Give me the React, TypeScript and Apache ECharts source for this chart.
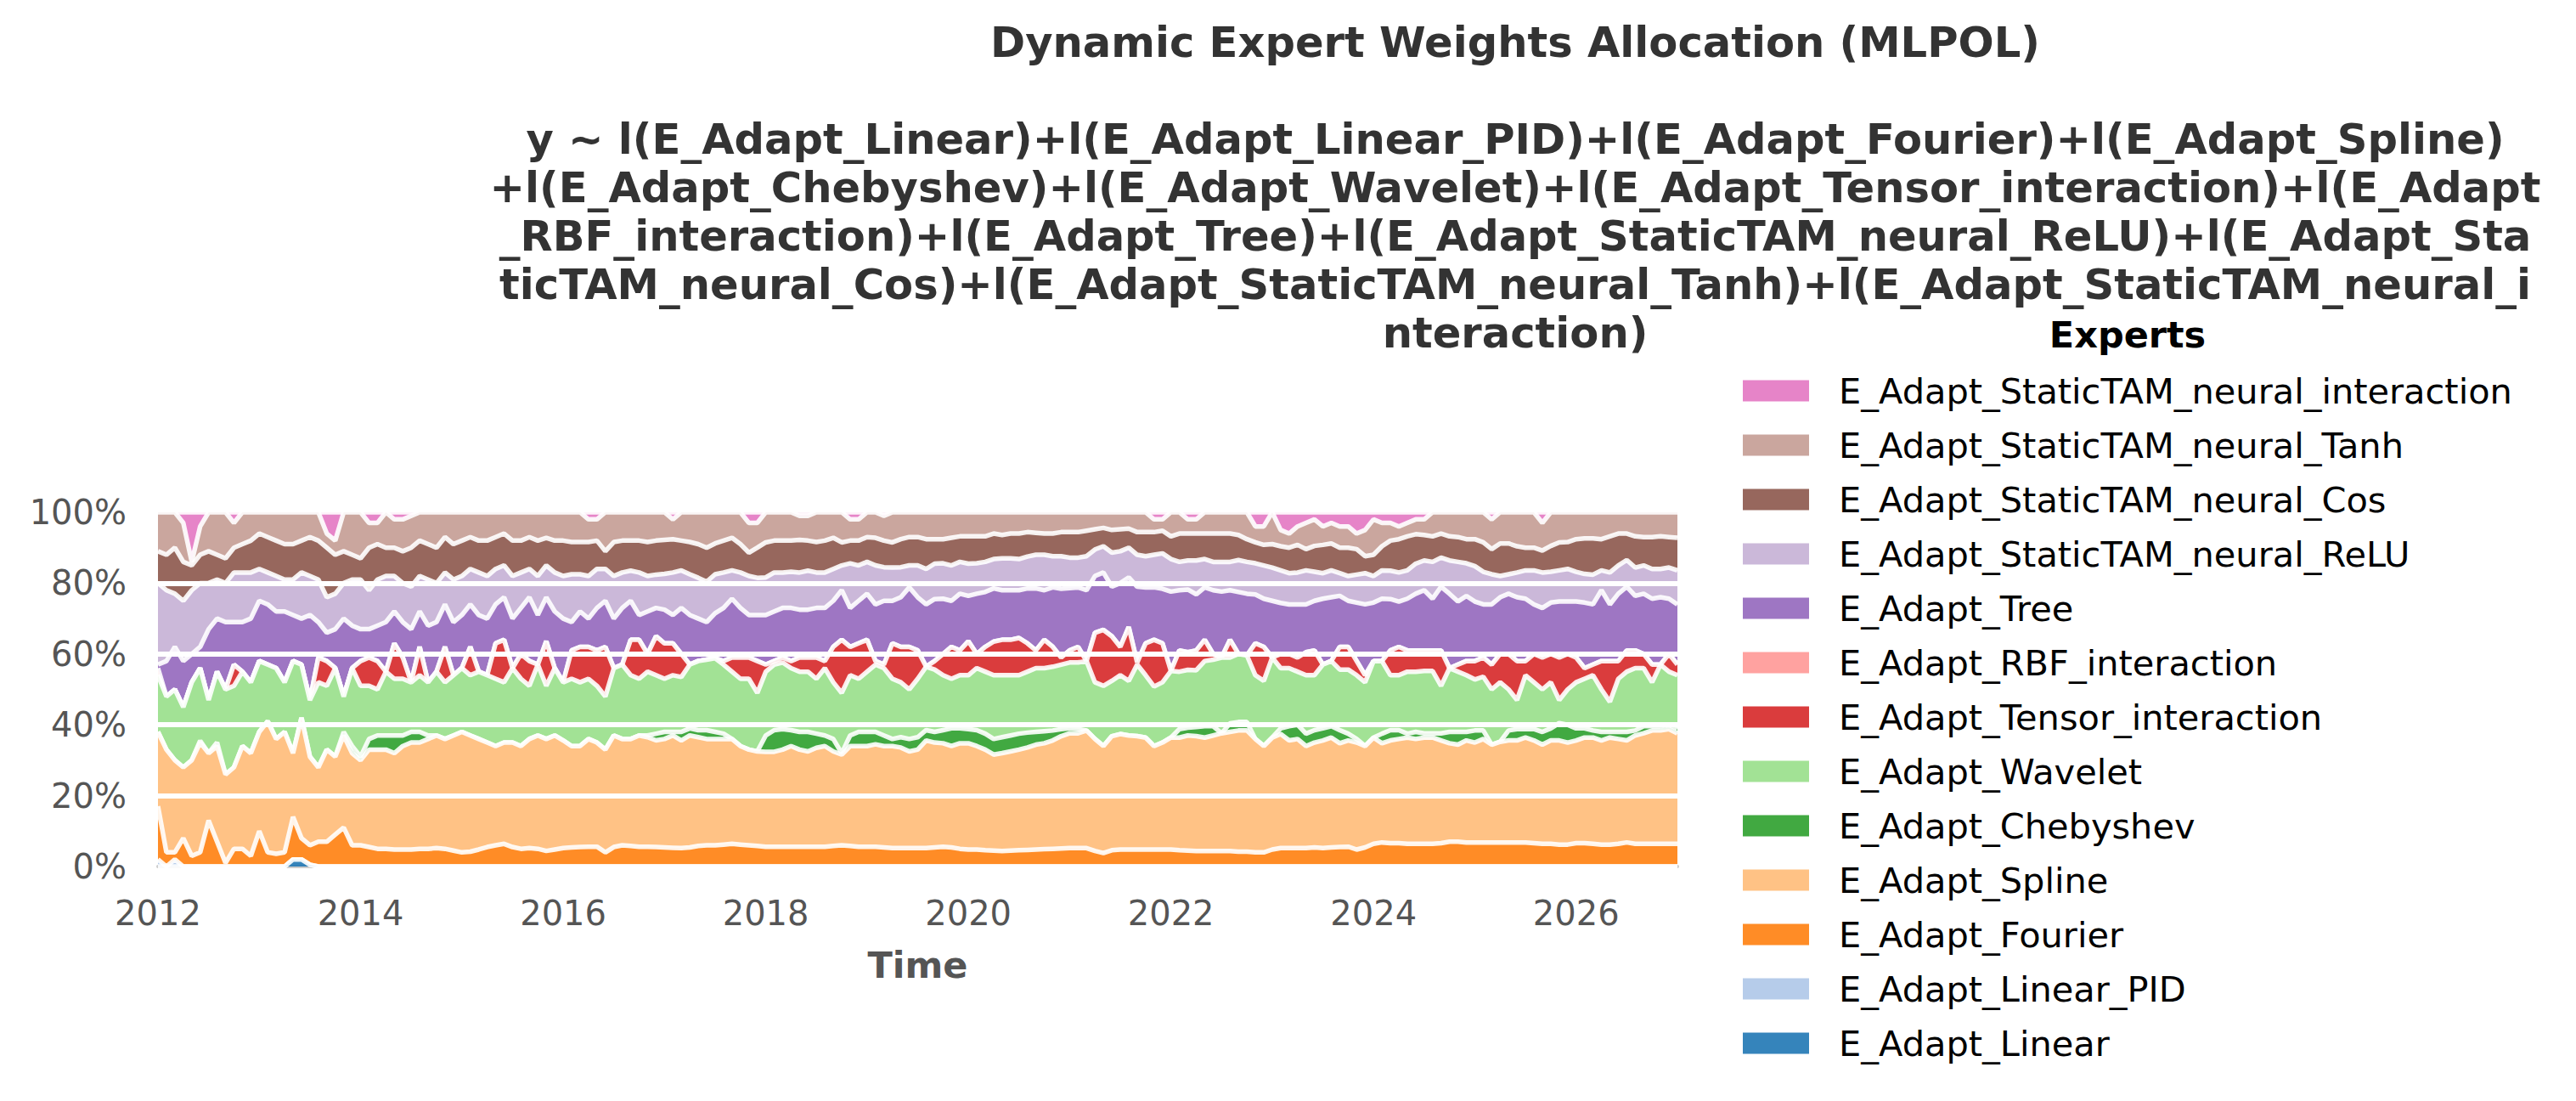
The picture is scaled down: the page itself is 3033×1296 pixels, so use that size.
import React, { useEffect, useRef } from "react";
import * as echarts from "echarts";

// Monthly expert weights (percent), January 2012 through January 2027, one row per year.
const START_YEAR = 2012;

const expertNames = [
  "E_Adapt_Linear",
  "E_Adapt_Linear_PID",
  "E_Adapt_Fourier",
  "E_Adapt_Spline",
  "E_Adapt_Chebyshev",
  "E_Adapt_Wavelet",
  "E_Adapt_Tensor_interaction",
  "E_Adapt_RBF_interaction",
  "E_Adapt_Tree",
  "E_Adapt_StaticTAM_neural_ReLU",
  "E_Adapt_StaticTAM_neural_Cos",
  "E_Adapt_StaticTAM_neural_Tanh",
  "E_Adapt_StaticTAM_neural_interaction",
];

const expertColors = [
  "#1f77b4", "#aec7e8", "#ff7f0e", "#ffbb78", "#2ca02c", "#98df8a", "#d62728",
  "#ff9896", "#9467bd", "#c5b0d5", "#8c564b", "#c49c94", "#e377c2",
];

const linear = [
  0, 0, 0, 0, 0, 0, 0, 0, 0, 0, 0, 0,
  0, 0, 0, 0, 2, 2, 0.5, 0, 0, 0, 0, 0,
  0, 0, 0, 0, 0, 0, 0, 0, 0, 0, 0, 0,
  0, 0, 0, 0, 0, 0, 0, 0, 0, 0, 0, 0,
  0, 0, 0, 0, 0, 0, 0, 0, 0, 0, 0, 0,
  0, 0, 0, 0, 0, 0, 0, 0, 0, 0, 0, 0,
  0, 0, 0, 0, 0, 0, 0, 0, 0, 0, 0, 0,
  0, 0, 0, 0, 0, 0, 0, 0, 0, 0, 0, 0,
  0, 0, 0, 0, 0, 0, 0, 0, 0, 0, 0, 0,
  0, 0, 0, 0, 0, 0, 0, 0, 0, 0, 0, 0,
  0, 0, 0, 0, 0, 0, 0, 0, 0, 0, 0, 0,
  0, 0, 0, 0, 0, 0, 0, 0, 0, 0, 0, 0,
  0, 0, 0, 0, 0, 0, 0, 0, 0, 0, 0, 0,
  0, 0, 0, 0, 0, 0, 0, 0, 0, 0, 0, 0,
  0, 0, 0, 0, 0, 0, 0, 0, 0, 0, 0, 0,
  0,
];

const linearPid = [
  2, 0, 2, 0, 0, 0, 0, 0, 0, 0, 0, 0,
  0, 0, 0, 0, 0, 0, 0, 0, 0, 0, 0, 0,
  0, 0, 0, 0, 0, 0, 0, 0, 0, 0, 0, 0,
  0, 0, 0, 0, 0, 0, 0, 0, 0, 0, 0, 0,
  0, 0, 0, 0, 0, 0, 0, 0, 0, 0, 0, 0,
  0, 0, 0, 0, 0, 0, 0, 0, 0, 0, 0, 0,
  0, 0, 0, 0, 0, 0, 0, 0, 0, 0, 0, 0,
  0, 0, 0, 0, 0, 0, 0, 0, 0, 0, 0, 0,
  0, 0, 0, 0, 0, 0, 0, 0, 0, 0, 0, 0,
  0, 0, 0, 0, 0, 0, 0, 0, 0, 0, 0, 0,
  0, 0, 0, 0, 0, 0, 0, 0, 0, 0, 0, 0,
  0, 0, 0, 0, 0, 0, 0, 0, 0, 0, 0, 0,
  0, 0, 0, 0, 0, 0, 0, 0, 0, 0, 0, 0,
  0, 0, 0, 0, 0, 0, 0, 0, 0, 0, 0, 0,
  0, 0, 0, 0, 0, 0, 0, 0, 0, 0, 0, 0,
  0,
];

const fourier = [
  15, 4, 2, 8, 3, 4, 13, 7, 1, 5, 5, 3,
  10, 4, 3.6, 4, 12, 6, 5.5, 7, 7, 9, 11, 6,
  6, 5.5, 5, 5, 4.8, 4.8, 4.8, 5, 5, 5.2, 5, 4.5,
  4, 4.2, 4.8, 5.5, 6, 6.4, 5.5, 5, 5.2, 5, 4.4, 4.8,
  5.2, 5.4, 5.5, 5.6, 5.6, 4, 5.5, 6, 5.8, 5.6, 5.6, 5.5,
  5.4, 5.3, 5.2, 5.4, 5.8, 6, 6, 6.2, 6.4, 6.2, 6, 5.8,
  5.6, 5.6, 5.6, 5.6, 5.6, 5.6, 5.6, 5.6, 5.8, 6, 5.8, 5.6,
  5.6, 5.6, 5.4, 5.2, 5.2, 5.2, 5.2, 5.2, 5.4, 5.6, 5.4, 5,
  4.8, 4.8, 4.6, 4.5, 4.4, 4.5, 4.6, 4.7, 4.8, 4.9, 5, 5.1,
  5.2, 5.2, 5.2, 4.4, 3.8, 4.6, 4.8, 4.8, 4.8, 4.8, 4.8, 4.8,
  4.8, 4.6, 4.5, 4.4, 4.4, 4.4, 4.4, 4.4, 4.2, 4.2, 4, 4,
  4.8, 5.2, 5.2, 5.2, 5.2, 5.4, 5.2, 5.4, 5.5, 5.6, 4.8, 5.4,
  6.4, 6.8, 6.6, 6.6, 6.4, 6.4, 6.4, 6.4, 6.6, 7, 7, 6.8,
  6.8, 6.8, 6.8, 6.8, 6.8, 6.8, 6.8, 6.6, 6.4, 6.4, 6.2, 6.2,
  6.6, 6.6, 6.4, 6.2, 6.2, 6.4, 6.8, 6.4, 6.4, 6.4, 6.4, 6.4,
  6.4,
];

const spline = [
  21, 29, 26, 20, 27, 31, 19, 27, 25, 23, 29, 29,
  28, 37, 32.4, 34, 18, 34, 25, 21, 26, 22, 26, 26,
  24, 27.5, 28, 28, 27.2, 29.2, 30.2, 30, 31, 31.8, 31, 32.5,
  34, 32.8, 31.2, 29.5, 28, 28.6, 29.5, 29, 30.8, 32, 31.6, 32.2,
  30.4, 28.6, 28.5, 30.4, 29.4, 29, 31.5, 30, 30.2, 31.4, 30.9, 30.1,
  30.6, 31.7, 30.4, 31.6, 30.7, 30, 30, 29.8, 29.6, 27.8, 27, 26.7,
  26.8, 26.8, 27.4, 28.4, 27.4, 26.9, 27.9, 28.4, 26.7, 25.6, 28.2, 28.4,
  28.4, 28.9, 28.6, 28.8, 28.4, 27.3, 27.8, 30.4, 29.6, 29.2, 28.6, 29.8,
  30, 29.2, 28.4, 27.1, 27.6, 28, 28.4, 28.9, 29.6, 29.9, 30.6, 31.7,
  32.4, 32.4, 33.2, 31.6, 30.2, 32.2, 32.6, 32.2, 32, 31.6, 29.2, 30.2,
  31.6, 31.8, 32.5, 32.4, 32, 32.6, 33.2, 33.6, 34.2, 34.2, 32, 30,
  31.6, 32.2, 30.4, 30.8, 28.8, 29.6, 30.4, 31, 29.3, 30, 30.2, 28.6,
  30, 28, 29, 29.4, 30, 29.6, 30, 30, 29, 27.8, 27.4, 28.8,
  28.2, 29.2, 27.6, 28.4, 28.8, 28.8, 29.6, 29, 28, 29.2, 29.4, 28.8,
  29, 29.8, 30, 29.4, 30.2, 29.6, 28.8, 30.6, 31.2, 32, 32, 32.4,
  31.2,
];

const chebyshev = [
  0, 0, 0, 0, 0, 0.5, 0, 1, 0, 0, 0, 0,
  0, 0, 0, 0, 0, 0, 0, 0, 0, 0, 1, 2,
  1, 3, 4, 4, 5, 3, 3, 3, 1, 0, 0, 0,
  0, 0, 0, 0, 0, 0, 0, 0, 0, 0, 0, 0,
  0, 0, 0, 0, 0, 0, 0, 0, 0, 0, 0.5, 1.9,
  2, 1, 2.4, 2, 2, 2.5, 2, 1.5, 0, 0, 0, 0,
  4.6, 6.1, 5.8, 4.5, 5, 5.5, 4, 3, 3.5, 0.4, 3, 4,
  4, 3.5, 3, 2, 2.9, 3.5, 3.5, 2.9, 3, 3.7, 5, 4.2,
  4, 4.5, 4.5, 4.4, 4.5, 4.5, 4.5, 4.2, 3.6, 3.4, 2.8, 2,
  1.4, 1.2, 0, 0, 0, 0, 0, 0, 0, 0, 0, 0,
  0, 2.4, 2.2, 2.6, 3.2, 2.6, 0, 2.4, 2.4, 2.4, 0, 0,
  0, 1.6, 4, 4, 3.5, 3.5, 3.4, 3.2, 3.7, 1.9, 1, 0,
  0, 2.7, 2.9, 2.5, 1.1, 2, 1.2, 1.2, 2, 3.2, 3.6, 2.4,
  3.4, 2.4, 0, 0, 2.8, 3.2, 2.4, 3.2, 3.6, 3.4, 4.9, 5,
  3.4, 2.6, 2, 2.4, 1.6, 2, 2.4, 1.4, 2, 1.2, 1.2, 1.2,
  1.4,
];

const wavelet = [
  16, 15, 20, 17, 22, 20.5, 15, 20, 24, 23, 21, 20,
  20, 16, 20, 14, 26, 15, 16, 24, 18, 25, 10, 22,
  20, 15, 13, 18, 16, 16, 14, 16, 15, 18, 16, 17,
  18, 17, 19, 19, 19, 17, 21, 19, 15, 20, 15, 19,
  16.4, 19, 18, 17, 16, 15, 19, 21, 18, 16, 18, 16.5,
  15, 16, 15.5, 18, 19.5, 19.9, 20.8, 19.5, 19, 19, 20, 16.5,
  18, 18.5, 18.8, 17.5, 17, 17, 15.5, 19, 16, 17, 17, 15,
  17, 19, 19, 17, 15.5, 14, 16.5, 17.9, 17.6, 15.5, 14, 15,
  15.2, 17.5, 17.5, 18, 17.5, 17, 16.5, 17.2, 18, 17.8, 18, 18.2,
  18.6, 18.8, 19.6, 16, 17, 15.6, 16.6, 15.4, 20.2, 17.6, 16.8, 17,
  18.8, 16.2, 16.3, 16, 18.4, 18.8, 21.4, 18.6, 19.2, 18.8, 18, 18.4,
  22.6, 17, 16.4, 15, 16.5, 15.5, 18, 18.4, 17.1, 18.1, 18, 18,
  21.6, 20.5, 15.5, 15.5, 17.5, 17, 17.6, 17.6, 13.4, 18, 17, 16,
  14.4, 15.2, 15.6, 16.8, 11.6, 8.2, 15.2, 13.2, 12, 13, 6.5, 10,
  13, 14, 15.6, 12, 8.5, 15, 17, 17.6, 16.4, 12.4, 17.4, 15,
  15,
];

const tensorInteraction = [
  0, 0, 0, 0, 0, 0, 0, 0, 0, 6, 0, 0,
  0, 0, 0, 0, 0, 0, 0, 7, 7, 0, 0, 0,
  7, 8, 8, 0, 10, 6, 0, 8, 0, 0, 10, 0,
  0, 8, 0, 0, 10, 12, 0, 7, 7, 0, 12.6, 0,
  0, 8, 10, 9, 10, 14, 0, 0, 10, 11, 5, 11,
  10, 9, 6.5, 0, 0, 0, 0, 1, 4, 6, 6, 9,
  2, 1, 1.4, 2, 4, 4, 6, 2, 10, 15, 8, 10,
  9, 1, 1, 10, 10, 12, 8, 0, 2.4, 6, 9, 7,
  9.6, 4, 7, 9.5, 10, 10, 10.5, 8, 5, 8, 5.6, 2,
  3.4, 4.4, 0, 14, 15.8, 12.6, 8, 15.2, 0.6, 9, 13.2, 11,
  0, 6, 5, 5.6, 6, 1.6, 0, 5, 0, 0, 9, 9.6,
  0, 4, 4, 4, 6.5, 7, 0, 0, 6.4, 6.4, 4, 2,
  0, 0, 7, 8, 6, 6, 5.8, 5.8, 10, 0, 2, 4,
  5.2, 5.4, 7, 8, 10, 11, 4, 8, 9, 8, 12, 10,
  7, 3, 3, 8, 11.5, 5, 6, 5, 4, 5, 0, 5,
  3,
];

const rbfInteraction = [
  2, 0, 0, 0, 0, 0, 0, 0, 0, 0, 0, 0,
  0, 0, 0, 0, 0, 0, 0, 0, 0, 0, 0, 0,
  0, 0, 0, 0, 0, 0, 0, 0, 0, 0, 0, 0,
  0, 0, 0, 0, 0, 0, 0, 0, 0, 0, 0, 0,
  0, 0, 0, 0, 0, 0, 0, 0, 0, 0, 0, 0,
  0, 0, 0, 0, 0, 0, 0, 0, 0, 0, 0, 0,
  0, 0, 0, 0, 0, 0, 0, 0, 0, 0, 0, 0,
  0, 0, 0, 0, 0, 0, 0, 0, 0, 0, 0, 0,
  0, 0, 0, 0, 0, 0, 0, 0, 0, 0, 0, 0,
  0, 0, 0, 0, 0, 0, 0, 0, 0, 0, 0, 0,
  0, 0, 0, 0, 0, 0, 0, 0, 0, 0, 0, 0,
  0, 0, 0, 0, 0, 0, 0, 0, 0, 0, 0, 0,
  0, 0, 0, 0, 0, 0, 0, 0, 0, 0, 0, 0,
  0, 0, 0, 0, 0, 0, 0, 0, 0, 0, 0, 0,
  0, 0, 0, 0, 0, 0, 0, 0, 0, 0, 0, 0,
  0,
];

const tree = [
  1, 10, 12, 13, 8, 6, 20, 15, 19, 12, 14, 18,
  17, 17, 16, 20, 13, 13, 24, 10, 8, 11, 22, 12,
  9, 8, 10, 14, 9, 10, 15, 10, 16, 14, 12, 15,
  15, 12, 16, 16, 11, 12, 14, 13, 18, 14, 12.4, 16,
  18, 8, 10, 8, 12, 13, 14, 16, 11, 7, 12, 8,
  9.5, 8, 13, 14, 12, 10.6, 12.7, 15, 16.6, 14, 12, 13,
  14, 14, 14, 15, 13.5, 13.5, 14, 15, 13, 14, 11, 12,
  13, 16, 18, 12, 14, 16.8, 15, 17.6, 17.5, 15.6, 13, 16,
  12.8, 17, 15.5, 15, 14, 14, 13.5, 15.5, 17.5, 14, 16.8, 19.4,
  17.6, 16.8, 20, 16, 16.2, 14, 18, 14, 21.4, 15.8, 14.8, 15.4,
  22.4, 17, 17.7, 15.8, 14.8, 18, 18.6, 14, 17.5, 17.4, 13.8, 13.6,
  16, 14.4, 14, 15, 13.5, 14, 18.6, 18, 14.4, 13, 16.5, 20,
  16.5, 17.6, 14.5, 12.8, 14.6, 16, 17, 14.6, 18, 21, 17.8, 18.4,
  16.8, 15, 17, 16, 17, 18, 17.6, 14, 14, 14.5, 15.8, 14.8,
  15.8, 18.5, 17, 20, 16, 19, 18, 15.4, 17, 18.6, 19, 15.6,
  17,
];

const neuralRelu = [
  23, 20, 15, 17, 18, 18, 13, 11, 11, 14, 14, 13,
  9, 9, 10, 9, 10, 13, 11, 12, 10, 10, 10, 13,
  14, 11, 13, 13, 10, 11, 12, 10, 13, 11, 9, 12,
  11, 10, 12, 12, 10, 9, 12, 10, 8, 11, 9, 11,
  12, 13.5, 10.5, 12, 11, 9, 12, 10, 8.5, 12, 10, 9.4,
  10.1, 12, 10.6, 11.5, 11.5, 11.4, 11, 10, 8, 10, 11, 10.5,
  10.6, 11, 10, 10.2, 10.5, 11, 10, 10, 9, 7, 12.6, 10,
  9, 11, 9.5, 9.4, 8.5, 6.2, 9, 10, 10, 10, 10, 9,
  9.1, 8.6, 8.5, 8.3, 9, 9, 8.8, 9, 9.5, 10, 8.8, 9.2,
  8.6, 8.4, 9.6, 7.5, 7.4, 9.6, 9, 8.4, 9, 8.8, 9.2, 10,
  9.2, 8, 8.2, 9.6, 8, 8, 8.4, 8, 9, 9, 8.8, 9.4,
  9.4, 9.2, 8.8, 9, 9.6, 8.2, 7.2, 7.6, 6.4, 7, 7.9, 8.8,
  7.5, 8, 8, 8.2, 8, 8.5, 8.4, 10.4, 8.2, 9.4, 11.2, 9.2,
  10, 9.2, 8.5, 6, 5.5, 7, 8, 9.6, 10, 8.7, 8.8, 9.2,
  8.4, 8.1, 8.4, 5.6, 9, 8, 7.5, 8, 8, 8.4, 8, 8.8,
  9.6,
];

const neuralCos = [
  9, 10, 13, 11, 7, 8, 9, 7, 7, 7, 8, 9,
  10, 10, 10, 10, 10, 9, 11, 11, 14, 11, 9, 7,
  6, 12, 10, 8, 8, 9, 11, 10, 10, 10, 10, 10,
  10, 9, 9, 10, 9, 9, 10, 9, 9, 10, 7.8, 9,
  10, 9.1, 9.1, 9.6, 8, 5, 9.6, 9, 8.5, 9, 9.6, 9.6,
  9.6, 9.4, 8.4, 9.1, 9.5, 9.6, 8.7, 9, 9.2, 8, 6.6, 8.5,
  9.9, 9, 9, 8.8, 9.2, 8.5, 8.6, 9, 8.8, 6.5, 6.4, 7,
  7, 7.8, 7.5, 7.1, 7.9, 8, 8, 8.4, 6.9, 6.8, 7.8, 7.2,
  7.7, 7.6, 7.2, 7.2, 6.6, 7, 7.2, 6.9, 6.2, 6, 6.4, 6.8,
  7.2, 7.2, 7.2, 5.7, 5.2, 6.4, 6.2, 5.4, 6.4, 6.8, 6.4, 6.4,
  6.4, 8, 7.6, 7.6, 7.2, 8, 8, 8, 7.1, 6.4, 5.9, 5.8,
  6.6, 6.8, 7.2, 7.8, 6, 7.3, 8, 7.6, 7.2, 8, 7.2, 4.8,
  6, 6.8, 8.5, 9.4, 9.6, 8.3, 7.2, 7.2, 6.8, 6.8, 7, 6.8,
  7.6, 8.3, 7.1, 9.2, 8.7, 7.4, 6.4, 6.4, 6.2, 7.3, 7.9, 7.6,
  9.2, 10, 10.2, 8.8, 10.2, 9, 7.5, 8.8, 8, 9, 9.2, 8.6,
  9.2,
];

const neuralTanh = [
  11, 12, 10, 11, 1, 8, 11, 12, 13, 7, 9, 8,
  6, 7, 8, 9, 9, 8, 7, 8, 4, 4, 11, 12,
  13, 7, 6, 10, 8, 9, 9, 8, 9, 10, 7, 9,
  8, 7, 8, 8, 7, 6, 8, 8, 7, 8, 7.2, 8,
  8, 8.4, 8.4, 6.4, 6, 11, 8.4, 8, 8, 8, 8.4, 8,
  7.8, 5.6, 8, 8.4, 9, 10, 8.8, 8, 7.2, 9, 8.4, 7,
  8.5, 8, 8, 8, 6.8, 7, 8.4, 8, 7.2, 8.5, 6, 6,
  7, 7.2, 7, 8.5, 7.6, 7, 7, 7.6, 7.6, 7.6, 7.2, 6.8,
  6.8, 6.8, 6.8, 6, 6.4, 6, 6, 5.6, 5.8, 6, 6, 5.6,
  5.6, 5.6, 5.2, 4.8, 4.4, 5, 4.8, 4.6, 5.6, 5.6, 3.6, 3.2,
  6.8, 6, 4, 4, 6, 6, 6, 6, 6.4, 7.6, 4.5, 5.2,
  9, 4.6, 4, 5.2, 7.4, 7.5, 5.2, 5.8, 6, 6, 4.4, 7.4,
  10, 6.6, 5, 3.6, 3.8, 4.2, 4.4, 6.8, 6, 6.8, 7, 7.6,
  7.6, 8.5, 8.4, 8.8, 8.8, 9.6, 10, 10, 7.8, 9.5, 8.5, 8.4,
  7.6, 7.4, 7.4, 7.6, 6.8, 6, 6, 6.8, 7, 7, 6.8, 7,
  7.2,
];

const neuralInteraction = [
  0, 0, 0, 3, 14, 4, 0, 0, 0, 3, 0, 0,
  0, 0, 0, 0, 0, 0, 0, 0, 6, 8, 0, 0,
  0, 3, 3, 0, 2, 2, 1, 0, 0, 0, 0, 0,
  0, 0, 0, 0, 0, 0, 0, 0, 0, 0, 0, 0,
  0, 0, 0, 2, 2, 0, 0, 0, 0, 0, 0, 0,
  0, 2, 0, 0, 0, 0, 0, 0, 0, 0, 3, 3,
  0, 0, 0, 0, 1, 1, 0, 0, 0, 0, 2, 2,
  0, 0, 1, 0, 0, 0, 0, 0, 0, 0, 0, 0,
  0, 0, 0, 0, 0, 0, 0, 0, 0, 0, 0, 0,
  0, 0, 0, 0, 0, 0, 0, 0, 0, 0, 2, 2,
  0, 0, 2, 2, 0, 0, 0, 0, 0, 0, 4, 4,
  0, 5, 6, 4, 3, 2, 4, 3, 4, 4, 6, 5,
  2, 3, 3, 4, 3, 2, 2, 0, 0, 0, 0, 0,
  0, 0, 2, 0, 0, 0, 0, 0, 3, 0, 0, 0,
  0, 0, 0, 0, 0, 0, 0, 0, 0, 0, 0, 0,
  0,
];

const expertWeights = [
  linear, linearPid, fourier, spline, chebyshev, wavelet, tensorInteraction,
  rbfInteraction, tree, neuralRelu, neuralCos, neuralTanh, neuralInteraction,
];

const yTicks = [0, 20, 40, 60, 80, 100];
const gridLevels = [20, 40, 60, 80];
const YEARS_PER_LABEL = 2;

const titleLines = [
  "Dynamic Expert Weights Allocation (MLPOL)",
  "",
  "y ~ l(E_Adapt_Linear)+l(E_Adapt_Linear_PID)+l(E_Adapt_Fourier)+l(E_Adapt_Spline)",
  "+l(E_Adapt_Chebyshev)+l(E_Adapt_Wavelet)+l(E_Adapt_Tensor_interaction)+l(E_Adapt",
  "_RBF_interaction)+l(E_Adapt_Tree)+l(E_Adapt_StaticTAM_neural_ReLU)+l(E_Adapt_Sta",
  "ticTAM_neural_Cos)+l(E_Adapt_StaticTAM_neural_Tanh)+l(E_Adapt_StaticTAM_neural_i",
  "nteraction)",
];

const FONT = "DejaVu Sans";

function withAlpha(hex: string, a: number) {
  const n = parseInt(hex.slice(1), 16);
  return `rgba(${(n >> 16) & 255},${(n >> 8) & 255},${n & 255},${a})`;
}

// Month labels "YYYY-MM" for each observation.
const monthCount = fourier.length;
const monthLabels = Array.from({ length: monthCount }, (_, i) => {
  const y = START_YEAR + Math.floor(i / 12);
  const m = (i % 12) + 1;
  return `${y}-${m < 10 ? "0" + m : m}`;
});

// Each month's weights are shown as shares of that month's total.
const monthTotals = monthLabels.map((_, j) =>
  expertWeights.reduce((s, w) => s + w[j], 0)
);
const shares = expertWeights.map((w) => w.map((v, j) => (v / monthTotals[j]) * 100));

function buildOption() {
  const series: any[] = expertNames.map((name, i) => {
    const fill = withAlpha(expertColors[i], 0.9);
    return {
      name,
      type: "line",
      stack: "total",
      data: shares[i],
      showSymbol: false,
      symbol: "none",
      silent: true,
      z: 40 - i,
      lineStyle: { color: "rgba(255,255,255,0.9)", width: 5.5 },
      itemStyle: { color: fill },
      areaStyle: { color: fill, opacity: 1 },
      emphasis: { disabled: true },
    };
  });

  // White horizontal grid lines drawn over the stacked areas
  // (carried by an invisible helper series; the mark line gets a high z).
  series.push({
    name: "__grid",
    type: "line",
    data: monthLabels.map(() => null),
    showSymbol: false,
    symbol: "none",
    silent: true,
    z: 100,
    lineStyle: { width: 0, opacity: 0 },
    markLine: {
      z: 100,
      silent: true,
      symbol: ["none", "none"],
      label: { show: false },
      lineStyle: { color: "#ffffff", width: 6, type: "solid", opacity: 1 },
      emphasis: { disabled: true },
      data: gridLevels.map((v) => ({ yAxis: v })),
    },
  });

  return {
    animation: false,
    backgroundColor: "#ffffff",
    textStyle: { fontFamily: FONT },
    title: {
      text: titleLines.join("\n"),
      left: 1784,
      top: 21,
      textAlign: "center",
      padding: 0,
      textStyle: {
        fontFamily: FONT,
        fontSize: 49.6,
        fontWeight: "bold",
        color: "#333333",
        lineHeight: 57,
      },
    },
    legend: {
      data: expertNames.slice().reverse(),
      orient: "vertical",
      left: 2052,
      top: 439,
      padding: 0,
      icon: "rect",
      itemWidth: 78,
      itemHeight: 25,
      itemGap: 22,
      selectedMode: false,
      itemStyle: { borderWidth: 0 },
      textStyle: {
        fontFamily: FONT,
        fontSize: 41.5,
        color: "#000000",
        lineHeight: 40,
        padding: [0, 0, 0, 30],
      },
    },
    graphic: [
      {
        type: "text",
        x: 2505,
        y: 394,
        style: {
          text: "Experts",
          fontFamily: FONT,
          fontSize: 43,
          fontWeight: "bold",
          fill: "#000000",
          align: "center",
          verticalAlign: "middle",
        },
      },
    ],
    grid: { left: 186, top: 603, width: 1789, height: 417 },
    xAxis: {
      type: "category",
      data: monthLabels,
      boundaryGap: false,
      offset: 3,
      axisLine: { show: true, lineStyle: { color: "#cccccc", width: 4 } },
      axisTick: { show: false },
      splitLine: { show: false },
      axisLabel: {
        interval: (index: number) => index % (12 * YEARS_PER_LABEL) === 0,
        formatter: (value: string) => value.slice(0, 4),
        fontFamily: FONT,
        fontSize: 40,
        color: "#555555",
        margin: 32,
      },
      name: "Time",
      nameLocation: "middle",
      nameGap: 91,
      nameTextStyle: { fontFamily: FONT, fontSize: 43, fontWeight: "bold", color: "#555555" },
    },
    yAxis: {
      type: "value",
      min: yTicks[0],
      max: yTicks[yTicks.length - 1],
      interval: yTicks[1] - yTicks[0],
      axisLine: { show: false },
      axisTick: { show: false },
      splitLine: { show: false },
      axisLabel: {
        formatter: "{value}%",
        fontFamily: FONT,
        fontSize: 40,
        color: "#555555",
        margin: 37,
      },
    },
    series,
  };
}

export default function App() {
  const ref = useRef<HTMLDivElement>(null);
  useEffect(() => {
    if (!ref.current) return;
    const chart = echarts.init(ref.current, null, { renderer: "svg" });
    chart.setOption(buildOption() as any);
    return () => chart.dispose();
  }, []);
  return (
    <div
      ref={ref}
      style={{ position: "fixed", left: 0, top: 0, width: 3033, height: 1296, background: "#ffffff" }}
    />
  );
}
